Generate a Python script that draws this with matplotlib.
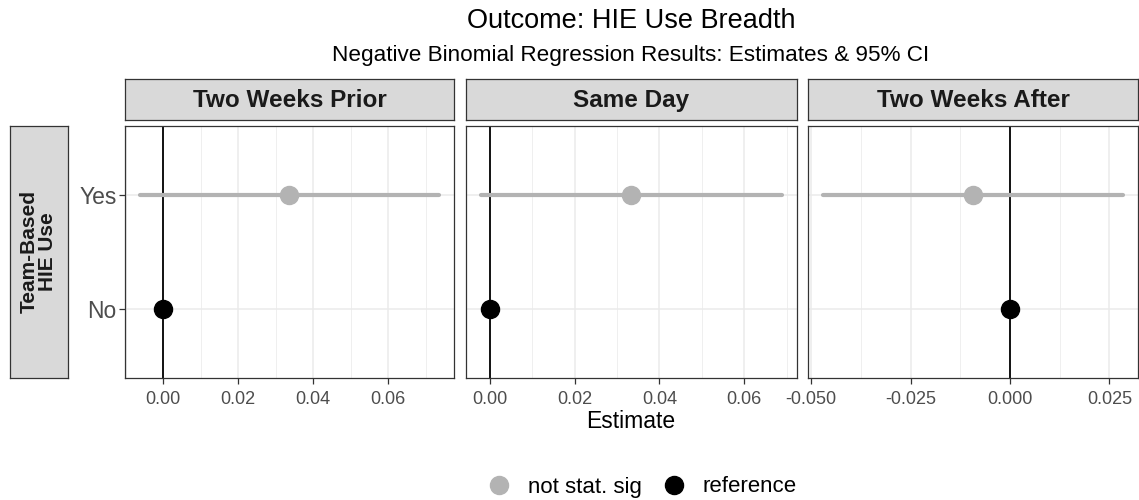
import matplotlib
matplotlib.use("Agg")
import matplotlib.pyplot as plt
from matplotlib.lines import Line2D
import matplotlib.ticker as mticker

plt.rcParams["font.family"] = ["Liberation Sans", "DejaVu Sans"]

# ── data ─────────────────────────────────────────────────────
panels = ["Two Weeks Prior", "Same Day", "Two Weeks After"]
levels = ["No", "Yes"]
yes_est = [0.0336, 0.0333, -0.0092]
yes_lo = [-0.0062, -0.0021, -0.0470]
yes_hi = [0.0736, 0.0689, 0.0284]
no_est = [0.0, 0.0, 0.0]
major_ticks = [[0.00, 0.02, 0.04, 0.06],
               [0.00, 0.02, 0.04, 0.06],
               [-0.050, -0.025, 0.000, 0.025]]
tick_fmt = ["%.2f", "%.2f", "%.3f"]

GREY_PT = "#B3B3B3"
BORDER = "#333333"
STRIP = "#D9D9D9"
GRID = "#EBEBEB"
TICKC = "#4D4D4D"

W, H = 1139, 500
fig = plt.figure(figsize=(W / 100, H / 100), dpi=100)


def px(x0, y0, x1, y1):
    # pixel box (top-left origin) -> figure fraction
    return [x0 / W, 1 - y1 / H, (x1 - x0) / W, (y1 - y0) / H]


panel_x = [(125, 454), (466, 797), (808, 1138)]
py0, py1 = 126, 377.5
sy0, sy1 = 79, 119.5

for i, name in enumerate(panels):
    x0, x1 = panel_x[i]
    ax = fig.add_axes(px(x0, py0, x1, py1))
    lo, hi = yes_lo[i], yes_hi[i]
    span = hi - lo
    ax.set_xlim(lo - 0.05 * span, hi + 0.05 * span)
    ax.set_ylim(0.4, 2.6)

    ticks = major_ticks[i]
    step = ticks[1] - ticks[0]
    ax.xaxis.set_major_locator(mticker.FixedLocator(ticks))
    ax.xaxis.set_minor_locator(mticker.MultipleLocator(step / 2))
    ax.xaxis.set_major_formatter(mticker.FormatStrFormatter(tick_fmt[i]))
    ax.set_yticks([1, 2])
    ax.yaxis.set_minor_locator(mticker.NullLocator())

    ax.grid(True, which="major", color=GRID, linewidth=1.1, zorder=0)
    ax.grid(True, which="minor", axis="x", color=GRID, linewidth=0.55, zorder=0)
    ax.set_axisbelow(True)

    for sp in ax.spines.values():
        sp.set_color(BORDER)
        sp.set_linewidth(0.9)

    ax.tick_params(axis="x", which="major", length=4, width=0.9, color=BORDER,
                   labelsize=13, labelcolor=TICKC, pad=5.5)
    ax.tick_params(axis="x", which="minor", length=0)
    if i == 0:
        ax.set_yticklabels(levels)
        ax.tick_params(axis="y", length=4, width=0.9, color=BORDER,
                       labelsize=16.5, labelcolor=TICKC, pad=2)
    else:
        ax.tick_params(axis="y", length=0, labelleft=False)

    ax.axvline(0, color="black", linewidth=1.3, zorder=2)
    ax.hlines(2, lo, hi, color=GREY_PT, linewidth=3, zorder=3,
              capstyle="round")
    ax.plot(yes_est[i], 2, "o", color=GREY_PT, markersize=13, zorder=4)
    ax.plot(no_est[i], 1, "o", color="black", markersize=13, zorder=4)

    # strip on top
    sax = fig.add_axes(px(x0, sy0, x1, sy1))
    sax.set_xticks([])
    sax.set_yticks([])
    sax.set_facecolor(STRIP)
    for sp in sax.spines.values():
        sp.set_color(BORDER)
        sp.set_linewidth(0.9)
    sax.text(0.5, 0.46, name, ha="center", va="center", fontsize=17.5,
             fontweight="bold", color="#1A1A1A", transform=sax.transAxes)

# left strip
lax = fig.add_axes(px(9.5, 126, 68, 377.5))
lax.set_xticks([])
lax.set_yticks([])
lax.set_facecolor(STRIP)
for sp in lax.spines.values():
    sp.set_color(BORDER)
    sp.set_linewidth(0.9)
lax.text(0.5, 0.5, "Team-Based\nHIE Use", ha="center", va="center",
         rotation=90, fontsize=15, fontweight="bold", color="#1A1A1A",
         linespacing=0.95, transform=lax.transAxes)

# titles and axis label
fig.text(631 / W, 1 - 21 / H, "Outcome: HIE Use Breadth", ha="center",
         va="center", fontsize=19.5, color="black")
fig.text(631 / W, 1 - 56 / H,
         "Negative Binomial Regression Results: Estimates & 95% CI",
         ha="center", va="center", fontsize=16.2, color="black")
fig.text(631 / W, 1 - 422 / H, "Estimate", ha="center", va="center",
         fontsize=16.5, color="black")

# legend
handles = [Line2D([], [], marker="o", linestyle="none", color=GREY_PT,
                  markersize=13, label="not stat. sig"),
           Line2D([], [], marker="o", linestyle="none", color="black",
                  markersize=13, label="reference")]
fig.legend(handles=handles, loc="center", bbox_to_anchor=(641 / W, 1 - 487 / H),
           ncol=2, frameon=False, fontsize=16, handletextpad=0.7,
           columnspacing=0.85, handlelength=1.2)

fig.savefig("out.png", dpi=100)
